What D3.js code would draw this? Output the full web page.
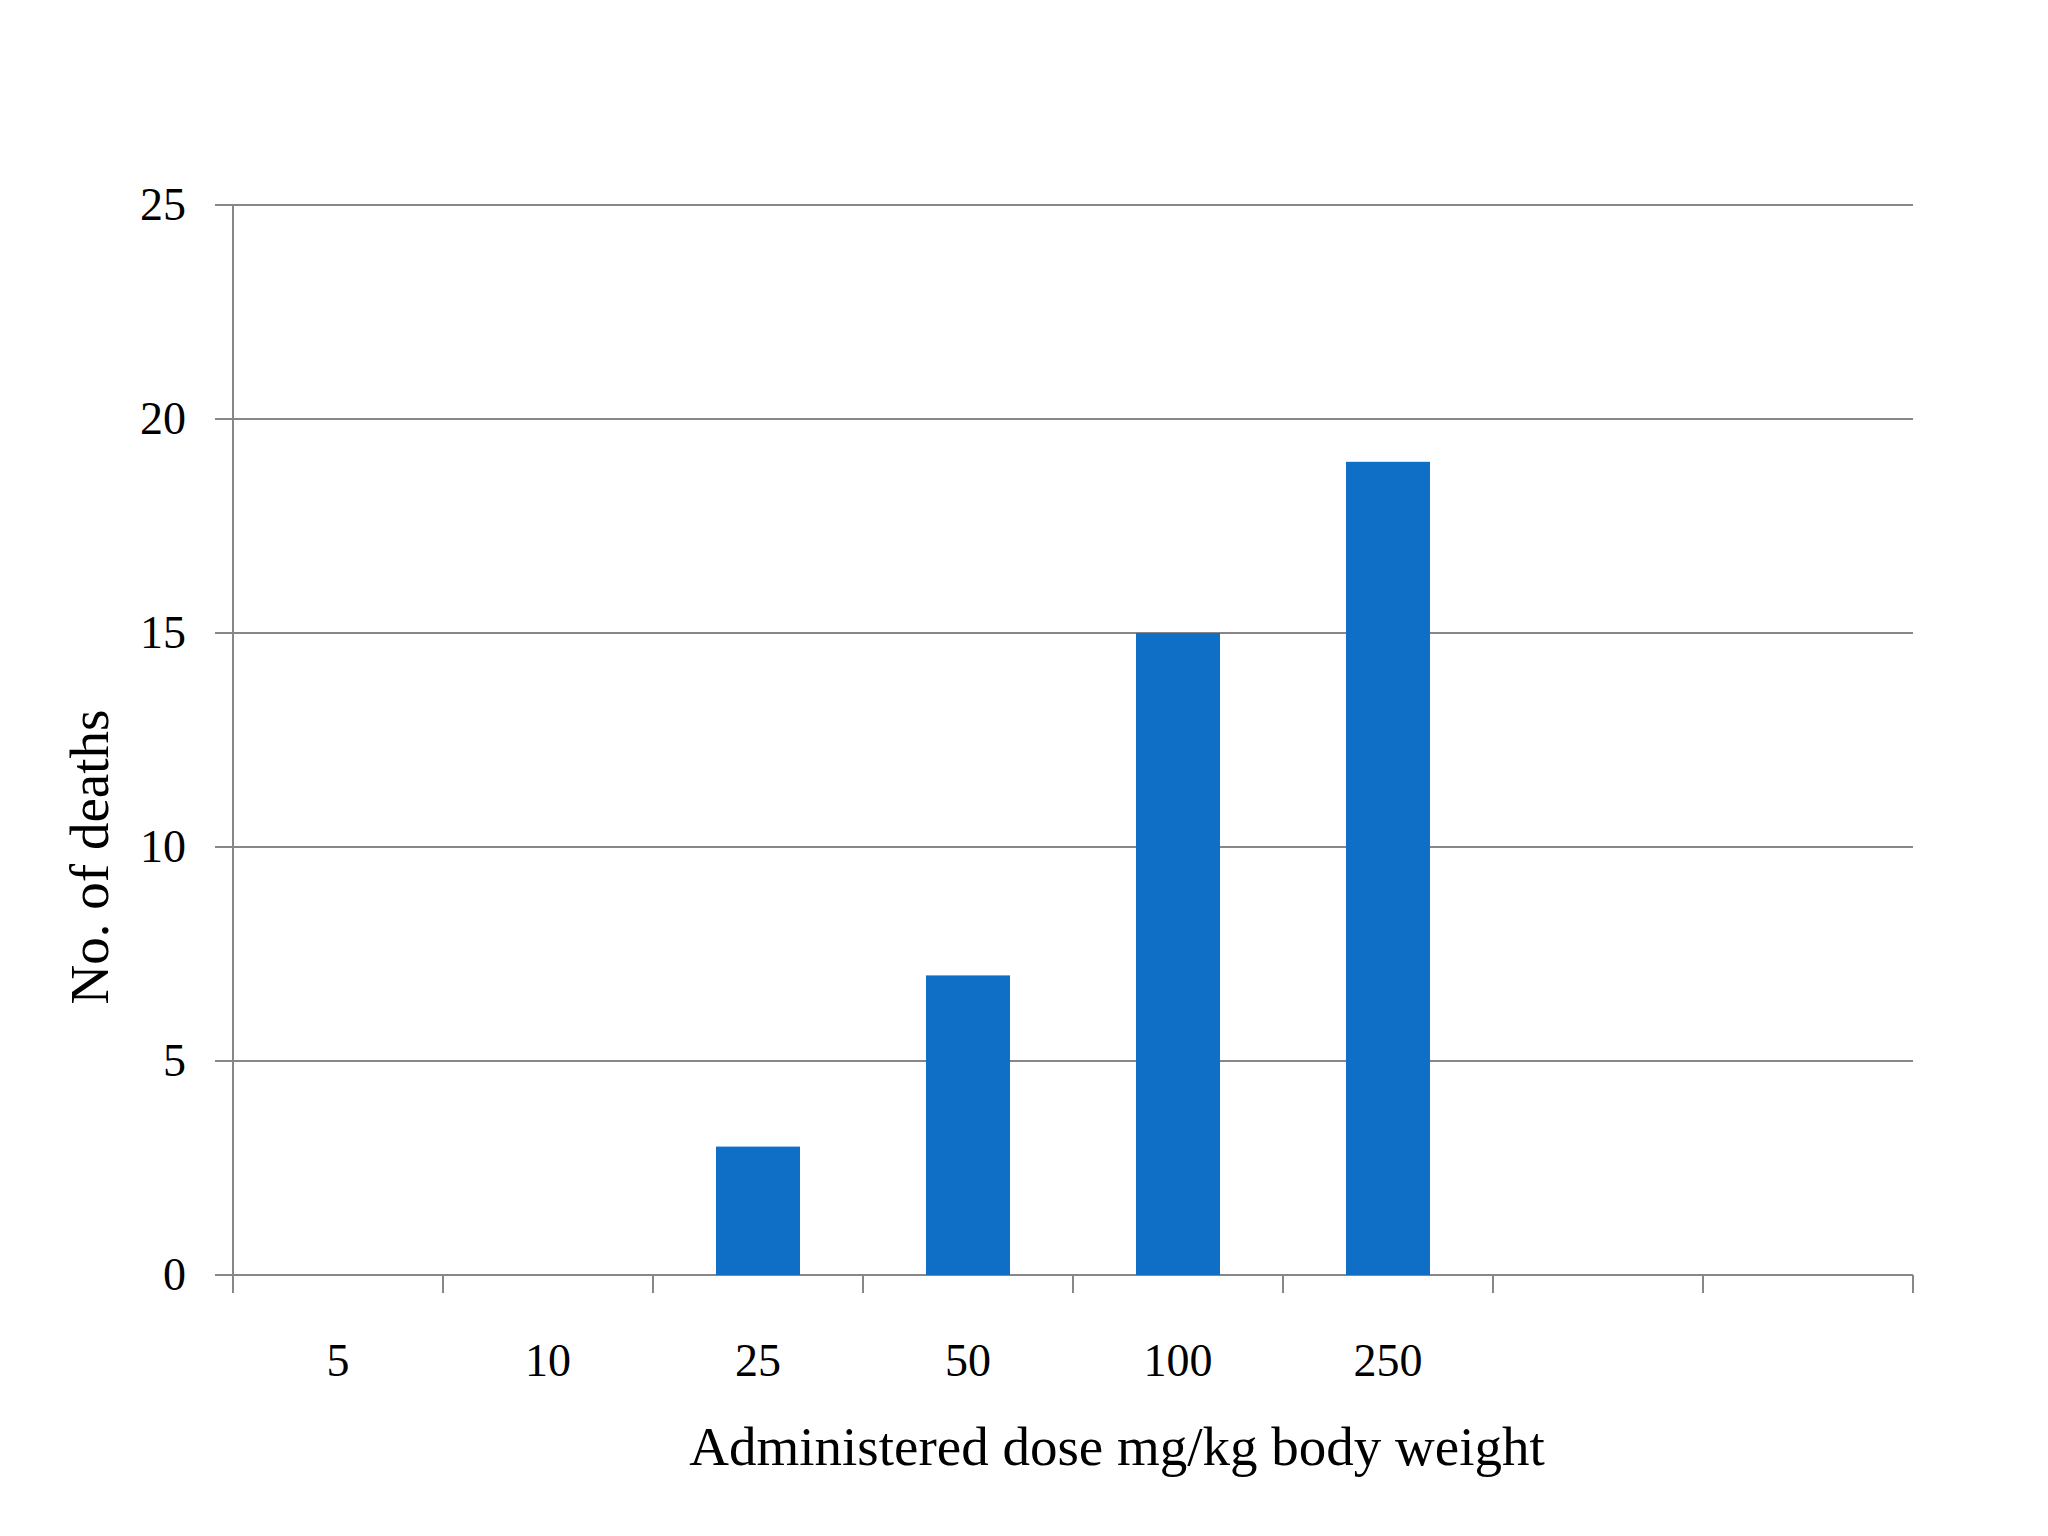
<!DOCTYPE html>
<html>
<head>
<meta charset="utf-8">
<script src="https://cdn.jsdelivr.net/npm/d3@7"></script>
<style>
  body { margin: 0; background: #fff; }
  text { font-family: "Liberation Serif", "DejaVu Serif", serif; fill: #000; }
</style>
</head>
<body>
<div id="chart"></div>
<script>
// dose groups (mg/kg) - last two slots are empty in the original
var doses = ["5", "10", "25", "50", "100", "250", "", " "];
var deaths = [0, 0, 3, 7, 15, 19, null, null];
var yTicks = [0, 5, 10, 15, 20, 25];

var W = 2048, H = 1536;
var plotLeft = 233, plotRight = 1913, plotTop = 205, plotBottom = 1275;
var gridColor = "#878787";

var svg = d3.select("#chart")
	.append("svg")
	.attr("width", W)
	.attr("height", H);

var x = d3.scaleBand()
	.domain(doses)
	.range([plotLeft, plotRight])
	.paddingInner(0.6)
	.paddingOuter(0.3);

var y = d3.scaleLinear()
	.domain([0, 25])
	.range([plotBottom, plotTop]);

// horizontal grid lines (with outward tick)
svg.selectAll(".grid")
	.data(yTicks).enter()
	.append("line")
	.attr("x1", plotLeft - 18)
	.attr("x2", plotRight)
	.attr("y1", function(d){ return y(d); })
	.attr("y2", function(d){ return y(d); })
	.attr("stroke", gridColor)
	.attr("stroke-width", 2);

// y axis line
svg.append("line")
	.attr("x1", plotLeft).attr("x2", plotLeft)
	.attr("y1", plotTop).attr("y2", plotBottom + 18)
	.attr("stroke", gridColor)
	.attr("stroke-width", 2);

// category separators on x axis
var step = x.step();
var sep = doses.map(function(d, i){ return plotLeft + i * step; }).concat([plotRight]);
svg.selectAll(".xtick")
	.data(sep).enter()
	.append("line")
	.attr("x1", function(d){ return d; })
	.attr("x2", function(d){ return d; })
	.attr("y1", plotBottom)
	.attr("y2", plotBottom + 18)
	.attr("stroke", gridColor)
	.attr("stroke-width", 2);

// bars
svg.selectAll(".bar")
	.data(doses.map(function(d, i){ return {dose: d, v: deaths[i]}; })
		.filter(function(d){ return d.v !== null; })).enter()
	.append("rect")
	.attr("class", "bar")
	.attr("x", function(d){ return x(d.dose); })
	.attr("width", x.bandwidth())
	.attr("y", function(d){ return y(d.v); })
	.attr("height", function(d){ return y(0) - y(d.v); })
	.attr("fill", "#0F6FC6");

// y tick labels
svg.selectAll(".ylab")
	.data(yTicks).enter()
	.append("text")
	.attr("x", 186)
	.attr("y", function(d){ return y(d) + 15; })
	.attr("text-anchor", "end")
	.attr("font-size", 46)
	.text(function(d){ return d; });

// x tick labels
svg.selectAll(".xlab")
	.data(doses).enter()
	.append("text")
	.attr("x", function(d){ return x(d) + x.bandwidth() / 2; })
	.attr("y", 1376)
	.attr("text-anchor", "middle")
	.attr("font-size", 46)
	.text(function(d){ return d.trim(); });

// axis titles
svg.append("text")
	.attr("x", 1117)
	.attr("y", 1465)
	.attr("text-anchor", "middle")
	.attr("font-size", 55)
	.text("Administered dose mg/kg body weight");

svg.append("text")
	.attr("transform", "translate(108,857) rotate(-90)")
	.attr("text-anchor", "middle")
	.attr("font-size", 55)
	.text("No. of deaths");
</script>
</body>
</html>
